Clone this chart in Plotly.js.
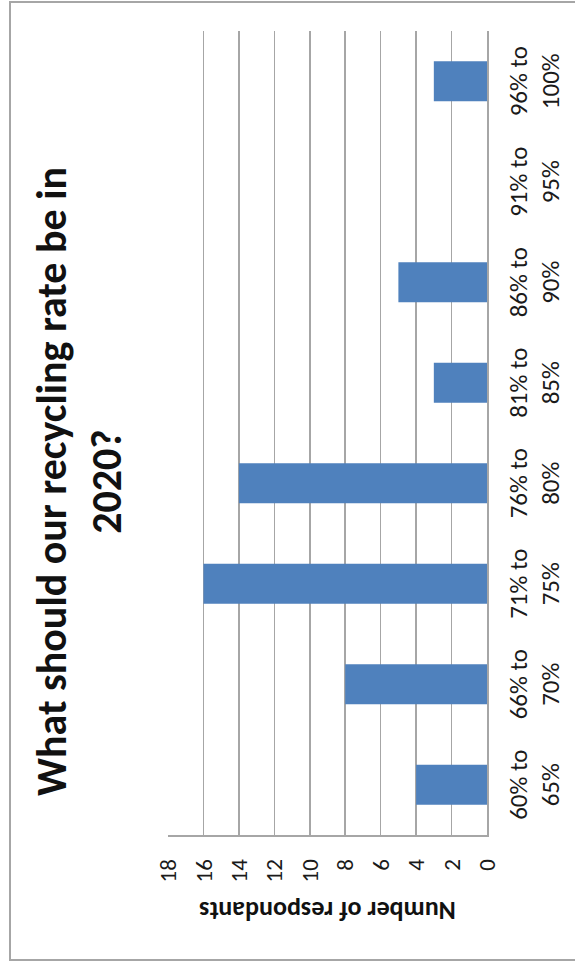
<!DOCTYPE html>
<html>
<head>
<meta charset="utf-8">
<script src="https://cdn.plot.ly/plotly-3.0.1.min.js"></script>
<style>
  html, body { margin:0; padding:0; background:#fff; overflow:hidden; }
  #frame { position:absolute; left:9px; top:1px; width:600px; height:960px;
           border-left:2px solid #a6a6a6; border-top:2px solid #a6a6a6; border-bottom:2px solid #a6a6a6; box-sizing:border-box; }
  #chart { position:absolute; left:0; top:963px; width:963px; height:575px;
           transform-origin: 0 0; transform: rotate(-90deg); }
</style>
</head>
<body>
<div id="frame"></div>
<div id="chart"></div>
<script>
const categories = ["60% to<br>65%", "66% to<br>70%", "71% to<br>75%", "76% to<br>80%",
                    "81% to<br>85%", "86% to<br>90%", "91% to<br>95%", "96% to<br>100%"];
const respondents = [4, 8, 16, 14, 3, 5, 0, 3];
const valueTicks = [0, 2, 4, 6, 8, 10, 12, 14, 16, 18];

const FONT = "Carlito, Calibri, Lato, sans-serif";

const trace = {
  type: 'bar',
  x: categories,
  y: respondents,
  marker: { color: '#4f81bd', line: { width: 0 } },
  hoverinfo: 'skip'
};

const layout = {
  width: 963, height: 575,
  margin: { l: 128, r: 31, t: 168, b: 88 },
  paper_bgcolor: 'rgba(0,0,0,0)',
  plot_bgcolor: 'rgba(0,0,0,0)',
  bargap: 0.6,
  showlegend: false,
  title: {
    text: "What should our recycling rate be in<br>2020?",
    font: { family: FONT, size: 42, weight: 700, color: '#111111' },
    x: 0.5, xref: 'container', xanchor: 'center',
    y: 1 - 66/575, yref: 'container', yanchor: 'top'
  },
  xaxis: {
    type: 'category',
    showgrid: false,
    showline: true, linecolor: '#a6a6a6', linewidth: 1.5,
    ticks: '', ticklabelstandoff: 8,
    tickfont: { family: FONT, size: 25, color: '#1a1a1a' },
    fixedrange: true
  },
  yaxis: {
    range: [0, 18],
    tickvals: valueTicks,
    ticktext: valueTicks.map(String),
    showgrid: true, gridcolor: '#a6a6a6', gridwidth: 1.5,
    zeroline: false,
    showline: true, linecolor: '#a6a6a6', linewidth: 1.5,
    ticks: '', ticklabelstandoff: 18,
    tickfont: { family: FONT, size: 23, color: '#1a1a1a' },
    title: { text: "Number of respondants", standoff: 11,
             font: { family: FONT, size: 26, weight: 700, color: '#111111' } },
    fixedrange: true
  }
};

Plotly.newPlot('chart', [trace], layout, { displayModeBar: false, staticPlot: true });
</script>
</body>
</html>
